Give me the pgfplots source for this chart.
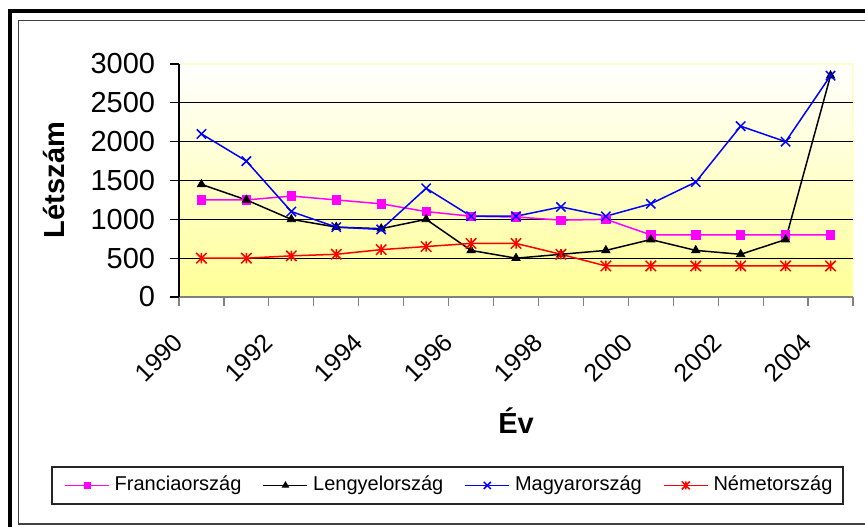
\documentclass[border=0pt]{standalone}
\usepackage{fontspec}
\setmainfont{Liberation Sans}
\usepackage{pgfplots}
\usepackage{pgfplotstable}
\pgfplotsset{compat=1.18}
\definecolor{plotyellow}{RGB}{255,255,150}
\definecolor{plotborder}{RGB}{255,255,204}
\definecolor{xaxisgray}{RGB}{128,128,128}
\definecolor{framegray}{RGB}{64,64,64}
\definecolor{frc}{RGB}{255,0,255}
\definecolor{mac}{RGB}{0,0,255}
\definecolor{nec}{RGB}{255,0,0}
\pgfdeclareplotmark{xstar}{%
  \pgfpathmoveto{\pgfqpoint{-\pgfplotmarksize}{-\pgfplotmarksize}}%
  \pgfpathlineto{\pgfqpoint{\pgfplotmarksize}{\pgfplotmarksize}}%
  \pgfpathmoveto{\pgfqpoint{-\pgfplotmarksize}{\pgfplotmarksize}}%
  \pgfpathlineto{\pgfqpoint{\pgfplotmarksize}{-\pgfplotmarksize}}%
  \pgfpathmoveto{\pgfqpoint{0pt}{-\pgfplotmarksize}}%
  \pgfpathlineto{\pgfqpoint{0pt}{\pgfplotmarksize}}%
  \pgfusepathqstroke}
\newcommand{\legimg}[2]{%
  \path[draw=none,fill=none] (-4pt,0pt) -- (22pt,0pt);
  \draw[draw=#1, line width=0.75pt] (0pt,0pt) -- (22pt,0pt);
  \path[draw=#1, fill=#1, line width=0.6pt, #2] plot coordinates {(11pt,0pt)};
}
\pgfplotstableread{
yr Fr Le Ma Ne
0 1250 1450 2100 500
1 1250 1250 1750 500
2 1300 1000 1100 530
3 1250 900 900 550
4 1200 880 870 610
5 1100 1000 1400 650
6 1040 600 1040 690
7 1030 500 1040 690
8 990 550 1160 550
9 1000 600 1040 400
10 800 740 1200 400
11 800 600 1480 400
12 800 550 2200 400
13 800 740 2000 400
14 800 2850 2850 400
}\datatable
\begin{document}
\begin{tikzpicture}[x=0.5pt,y=-0.5pt]
\useasboundingbox (0,0) rectangle (865,526);
\fill[white] (0,0) rectangle (865,526);
\draw[framegray, line width=0.75pt] (870,20.7) -- (18.3,20.7) -- (18.3,523.8) -- (870,523.8);
\draw[black, line width=2pt] (9.5,530) -- (9.5,11.3) -- (870,11.3);
\begin{axis}[
  at={(89.5pt,-148.5pt)}, anchor=south west,
  scale only axis, width=337pt, height=116.5pt,
  xmin=-0.5, xmax=14.5, ymin=0, ymax=3000,
  axis x line*=bottom, axis y line*=left,
  x axis line style={xaxisgray, line width=0.6pt, -},
  y axis line style={black, line width=0.6pt, -},
  tick align=outside, major tick length=4.25pt,
  xtick={-0.5,0.5,...,14.5}, xticklabels={},
  xtick style={xaxisgray, line width=0.6pt},
  ytick={0,500,...,3000}, yticklabels={0,500,1000,1500,2000,2500,3000},
  ytick style={black, line width=0.6pt},
  yticklabel style={font=\fontsize{14.5pt}{17pt}\selectfont, inner sep=0pt, xshift=-7.5pt},
  extra y ticks={500,1000,...,2500}, extra y tick labels={},
  extra y tick style={major tick length=0pt, grid=major},
  major grid style={black, line width=0.5pt},
  axis background/.style={shade, top color=white, bottom color=plotyellow, draw=plotborder, line width=0.6pt},
  xlabel={Év}, ylabel={Létszám},
  every axis y label/.style={at={(axis description cs:-0.1855,0.502)}, rotate=90, anchor=center, font=\bfseries\fontsize{14.5pt}{17pt}\selectfont},
  every axis x label/.style={at={(axis description cs:0.5,-0.5837)}, anchor=base, font=\bfseries\fontsize{14.5pt}{17pt}\selectfont},
  legend columns=4,
  legend cell align=left,
  legend style={at={(axis description cs:-0.18843,-0.72961)}, anchor=north west, outer sep=0pt, draw=none, fill=none, inner xsep=2.5pt, inner ysep=4.4pt, font=\fontsize{10pt}{12pt}\selectfont, column sep=0pt, row sep=0pt, nodes={inner sep=0pt, text height=7.4pt, text depth=2.2pt}, /tikz/every odd column/.append style={column sep=2.5pt}, /tikz/every even column/.append style={column sep=7pt}},
]
\addplot[color=frc, line width=0.75pt, mark=square*, mark size=2.1pt, mark options={solid, line width=0.4pt, fill=frc},
  legend image code/.code={\legimg{frc}{mark=square*, mark size=1.5pt}}] table[x=yr,y=Fr]{\datatable};
\addlegendentry{Franciaország}
\addplot[color=black, line width=0.75pt, mark=triangle*, mark size=2.4pt, mark options={solid, line width=0.4pt, fill=black},
  legend image code/.code={\legimg{black}{mark=triangle*, mark size=1.8pt}}] table[x=yr,y=Le]{\datatable};
\addlegendentry{Lengyelország}
\addplot[color=mac, line width=0.75pt, mark=x, mark size=3.3pt, mark options={solid, line width=0.75pt},
  legend image code/.code={\legimg{mac}{mark=x, mark size=2.5pt}}] table[x=yr,y=Ma]{\datatable};
\addlegendentry{Magyarország}
\addplot[color=nec, line width=0.75pt, mark=xstar, mark size=2.6pt, mark options={solid, line width=0.75pt},
  legend image code/.code={\legimg{nec}{mark=xstar, mark size=2pt}}] table[x=yr,y=Ne]{\datatable};
\addlegendentry{Németország}
\end{axis}
\foreach \k/\lab in {0/1990,1/1992,2/1994,3/1996,4/1998,5/2000,6/2002,7/2004}
  \node[rotate=45, anchor=east, inner sep=0pt, font=\fontsize{12.5pt}{15pt}\selectfont] at ({178.7+89.87*\k},337.8) {\lab};
\draw[black!85, line width=0.6pt] (52,467) rectangle (843,504);
\end{tikzpicture}
\end{document}
